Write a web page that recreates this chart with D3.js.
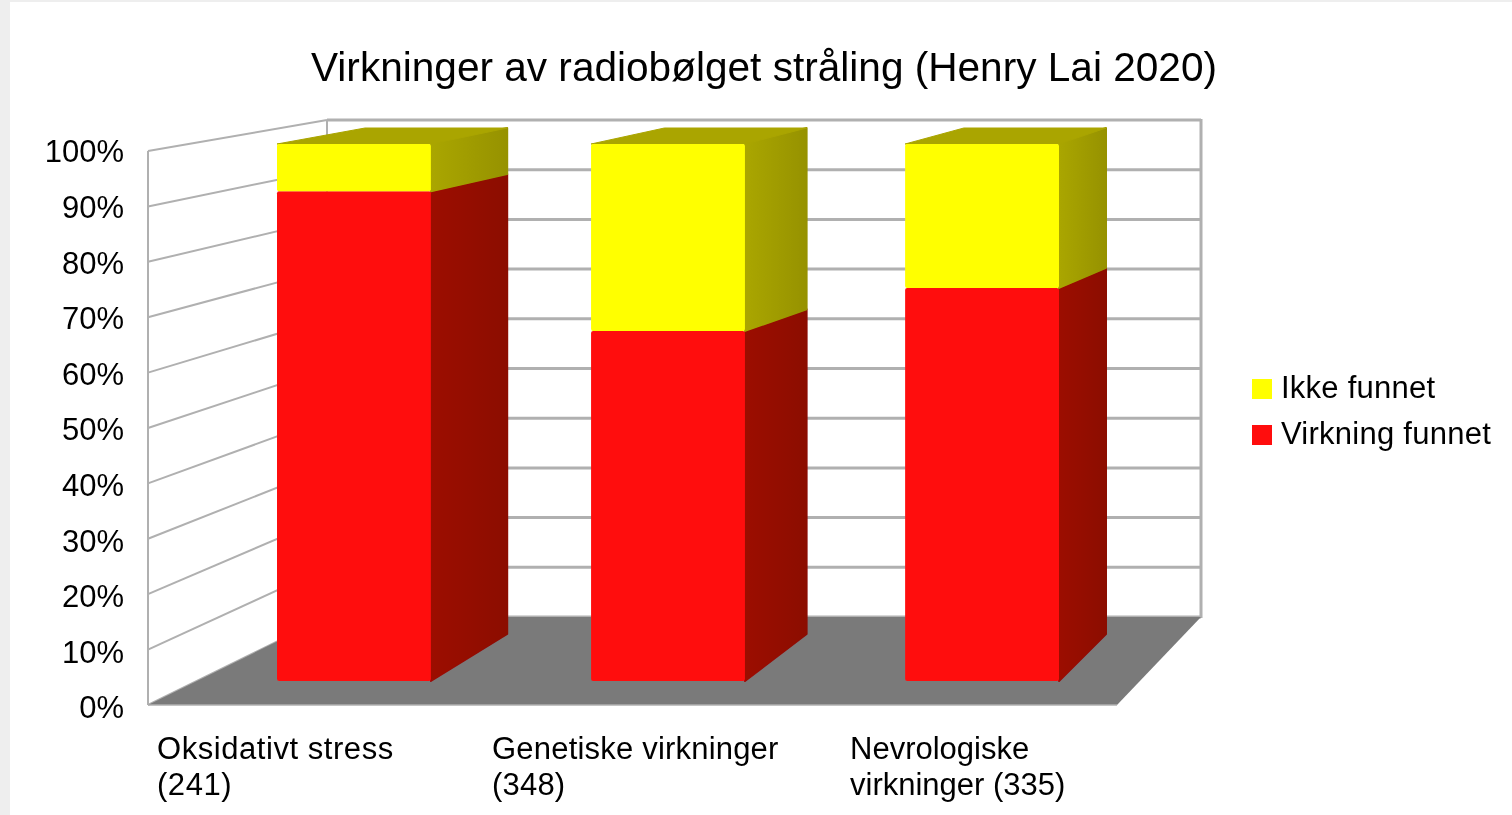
<!DOCTYPE html>
<html>
<head>
<meta charset="utf-8">
<script src="https://cdn.jsdelivr.net/npm/d3@7"></script>
<style>
  html, body { margin: 0; padding: 0; background: #fff; overflow: hidden; }
  text { font-family: "Liberation Sans", Arial, sans-serif; fill: #000; }
</style>
</head>
<body>
<script>
// chart data
var categories = ["Oksidativt stress (241)", "Genetiske virkninger (348)", "Nevrologiske virkninger (335)"];
var categoryLines = [["Oksidativt stress", "(241)"], ["Genetiske virkninger", "(348)"], ["Nevrologiske", "virkninger (335)"]];
var found = [91.2, 65.2, 73.2];      // Virkning funnet
var notFound = [8.8, 34.8, 26.8];    // Ikke funnet
var tickValues = [0, 10, 20, 30, 40, 50, 60, 70, 80, 90, 100];
var legendLabels = ["Ikke funnet", "Virkning funnet"];
var title = "Virkninger av radiobølget stråling (Henry Lai 2020)";

function init() {
    var w = 1512, h = 815;
    var svg = d3.select("body").append("svg").attr("width", w).attr("height", h)
        .style("display", "block");

    // the reference is a slightly soft screenshot
    var defs = svg.append("defs");
    defs.append("filter").attr("id", "soft")
        .attr("filterUnits", "userSpaceOnUse")
        .attr("x", 0).attr("y", 0).attr("width", w).attr("height", h)
        .append("feGaussianBlur").attr("stdDeviation", 0.6);

    function sideGradient(id, c1, c2) {
        var g = defs.append("linearGradient").attr("id", id);
        g.append("stop").attr("offset", "0%").attr("stop-color", c1);
        g.append("stop").attr("offset", "100%").attr("stop-color", c2);
    }
    sideGradient("sideRed", "#9c0806", "#8c0704");
    sideGradient("sideYellow", "#aaa600", "#969200");

    var root = svg.append("g").attr("filter", "url(#soft)");

    // page edge of the screenshot
    root.append("rect").attr("width", w).attr("height", h).attr("fill", "#fff");
    root.append("rect").attr("width", 10).attr("height", h).attr("fill", "#eeeeee");
    root.append("rect").attr("width", w).attr("height", 2).attr("fill", "#eeeeee");

    // scales: front wall, back wall, labels, bar fronts, bar backs
    var yWall = d3.scaleLinear().domain([0, 100]).range([705, 151]);
    var yBackWall = d3.scaleLinear().domain([0, 100]).range([617, 120]);
    var yLabel = d3.scaleLinear().domain([0, 100]).range([707, 151]);
    var yBar = d3.scaleLinear().domain([0, 100]).range([681, 144]);
    // back edge of the boxes runs a little lower in the middle (perspective)
    var yBarBack = d3.scalePow().exponent(1.037).domain([0, 100]).range([634, 128]);
    var xBar = d3.scaleBand().domain(categories).range([277, 1059]).paddingInner(0.51);
    var xBarBack = d3.scaleBand().domain(categories).range([365, 1106]).paddingInner(0.525);

    var wallLeft = 148, backLeft = 327, backRight = 1201, floorRight = 1117;
    var gridColor = "#b0b0b0";

    // grid lines on left wall and back wall
    root.selectAll("line.wall").data(tickValues).enter().append("line")
        .attr("class", "wall")
        .attr("x1", wallLeft).attr("x2", backLeft)
        .attr("y1", function(d) { return yWall(d); })
        .attr("y2", function(d) { return yBackWall(d); })
        .attr("stroke", gridColor).attr("stroke-width", 2);

    root.selectAll("line.back").data(tickValues).enter().append("line")
        .attr("class", "back")
        .attr("x1", backLeft).attr("x2", backRight)
        .attr("y1", function(d) { return yBackWall(d); })
        .attr("y2", function(d) { return yBackWall(d); })
        .attr("stroke", gridColor).attr("stroke-width", 3);

    // wall edges
    root.append("line").attr("x1", wallLeft).attr("x2", wallLeft)
        .attr("y1", yWall(100)).attr("y2", yWall(0))
        .attr("stroke", gridColor).attr("stroke-width", 2);
    root.append("line").attr("x1", backLeft).attr("x2", backLeft)
        .attr("y1", yBackWall(100)).attr("y2", yBackWall(0))
        .attr("stroke", gridColor).attr("stroke-width", 2);
    root.append("line").attr("x1", backRight).attr("x2", backRight)
        .attr("y1", yBackWall(100) - 1).attr("y2", yBackWall(0) + 1)
        .attr("stroke", gridColor).attr("stroke-width", 3);

    // floor
    root.append("polygon")
        .attr("points", [[wallLeft, yWall(0)], [floorRight, yWall(0)], [backRight, yBackWall(0)], [backLeft, yBackWall(0)]].join(" "))
        .attr("fill", "#7a7a7a");
    root.append("line").attr("x1", wallLeft).attr("x2", floorRight)
        .attr("y1", yWall(0)).attr("y2", yWall(0))
        .attr("stroke", gridColor).attr("stroke-width", 1.5);

    // stacked segments for the boxes
    var series = d3.stack().keys(["found", "notFound"])(categories.map(function(c, i) {
        return { category: c, found: found[i], notFound: notFound[i] };
    }));
    var fronts = ["#ff1010", "#ffff00"];
    var sides = ["url(#sideRed)", "url(#sideYellow)"];

    categories.forEach(function(c, i) {
        var x0 = xBar(c), x1 = x0 + xBar.bandwidth();
        var bx0 = xBarBack(c), bx1 = bx0 + xBarBack.bandwidth();
        series.forEach(function(s, k) {
            var lo = s[i][0], hi = s[i][1];
            // side face
            root.append("polygon")
                .attr("points", [[x1, yBar(lo)], [bx1, yBarBack(lo)], [bx1, yBarBack(hi)], [x1, yBar(hi)]].join(" "))
                .attr("fill", sides[k]).attr("stroke", sides[k]).attr("stroke-width", 2).attr("stroke-linejoin", "round");
            // top face only on the top segment
            if (k === series.length - 1) {
                root.append("polygon")
                    .attr("points", [[x0, yBar(hi)], [bx0, yBarBack(hi)], [bx1, yBarBack(hi)], [x1, yBar(hi)]].join(" "))
                    .attr("fill", "#aaa500").attr("stroke", "#aaa500").attr("stroke-width", 1).attr("stroke-linejoin", "round");
            }
            // front face
            root.append("rect")
                .attr("x", x0).attr("width", x1 - x0)
                .attr("y", yBar(hi)).attr("height", yBar(lo) - yBar(hi))
                .attr("rx", 2)
                .attr("fill", fronts[k]);
        });
    });

    // y axis labels
    var yAxis = d3.axisLeft(yLabel).tickValues(tickValues)
        .tickFormat(function(d) { return d + "%"; })
        .tickSize(0).tickPadding(24);
    var axisG = root.append("g").attr("transform", "translate(" + wallLeft + ",1)").call(yAxis);
    axisG.select(".domain").remove();
    axisG.selectAll("text").attr("font-size", 31).style("font-family", '"Liberation Sans", Arial, sans-serif').attr("fill", "#000");

    // category labels
    var labelX = [157, 492, 850];
    var labelSpacing = [0.55, 0.2, 0];
    var cat = root.selectAll("text.cat").data(categoryLines).enter().append("text")
        .attr("class", "cat").attr("font-size", 31)
        .attr("letter-spacing", function(d, i) { return labelSpacing[i]; });
    cat.selectAll("tspan").data(function(d, i) {
        return d.map(function(t) { return { t: t, x: labelX[i] }; });
    }).enter().append("tspan")
        .attr("x", function(d) { return d.x; })
        .attr("y", function(d, j) { return 759 + j * 36; })
        .text(function(d) { return d.t; });

    // title
    root.append("text").attr("x", 764).attr("y", 81).attr("text-anchor", "middle")
        .attr("font-size", 40.6).text(title);

    // legend
    var legendY = [389, 435];
    var legendColors = ["#ffff00", "#ff1010"];
    legendLabels.forEach(function(l, i) {
        root.append("rect").attr("x", 1252).attr("y", legendY[i] - 10)
            .attr("width", 20).attr("height", 20).attr("fill", legendColors[i]);
        root.append("text").attr("x", 1281).attr("y", legendY[i] + 9)
            .attr("font-size", 31).attr("letter-spacing", 0.25).text(l);
    });
}
window.onload = init;
</script>
</body>
</html>
